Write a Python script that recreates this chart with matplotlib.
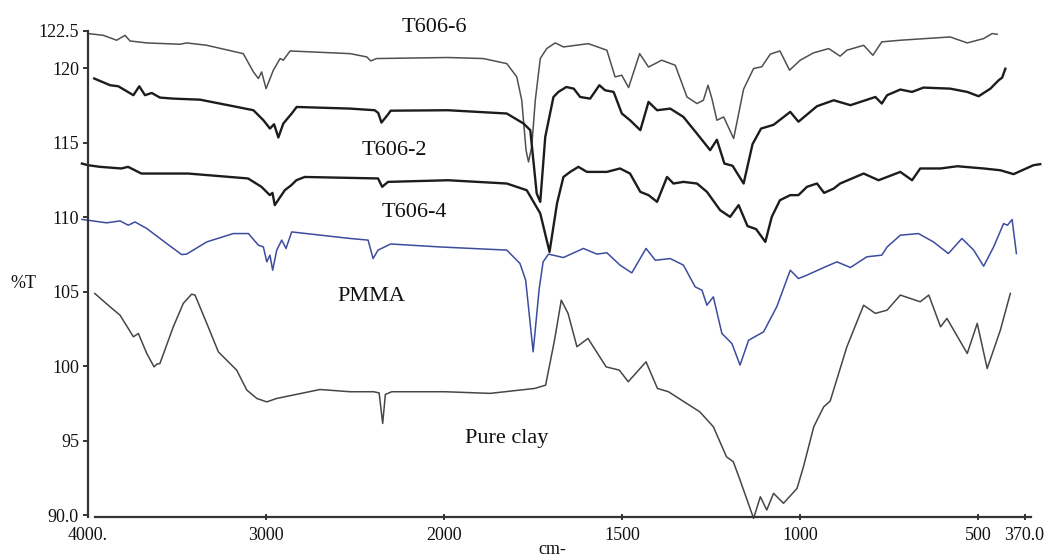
import numpy as np
import matplotlib
matplotlib.use("Agg")
import matplotlib.pyplot as plt
from matplotlib.ticker import FixedLocator, FixedFormatter, NullLocator

# ---------------- data (wavenumber cm-1, %T) ----------------
t6_w = [4002, 3914, 3839, 3792, 3764, 3670, 3483, 3446, 3333, 3128, 3071, 3043, 3025, 3000,
        2959, 2921, 2903, 2865, 2528, 2434, 2412, 2380, 1989, 1890, 1824, 1796, 1782, 1770,
        1763, 1754, 1744, 1730, 1712, 1688, 1665, 1595, 1543, 1520, 1501, 1482, 1451, 1426,
        1389, 1351, 1318, 1290, 1272, 1259, 1248, 1234, 1215, 1187, 1159, 1131, 1108, 1084,
        1057, 1030, 1000, 963, 920, 888, 869, 822, 796, 771, 719, 579, 531, 485, 461, 447]
t6_v = [122.33, 122.21, 121.88, 122.21, 121.83, 121.70, 121.61, 121.70, 121.54, 120.98, 119.75,
        119.31, 119.75, 118.63, 119.87, 120.65, 120.54, 121.16, 120.98, 120.76, 120.49, 120.65,
        120.72, 120.65, 120.31, 119.42, 117.85, 114.50, 113.71, 114.72, 117.85, 120.65, 121.32,
        121.70, 121.43, 121.65, 121.21, 119.42, 119.53, 118.70, 120.98, 120.08, 120.54, 120.20,
        118.07, 117.63, 117.85, 118.86, 117.96, 116.51, 116.73, 115.28, 118.60, 119.98, 120.10,
        120.95, 121.16, 119.87, 120.54, 121.03, 121.32, 120.81, 121.21, 121.54, 120.87, 121.77,
        121.88, 122.10, 121.70, 121.99, 122.33, 122.28]

t2_w = [3965, 3876, 3830, 3745, 3712, 3680, 3642, 3596, 3521, 3371, 3184, 3071, 3015, 2978,
        2955, 2931, 2903, 2856, 2828, 2528, 2390, 2370, 2352, 2315, 2300, 1989, 1824, 1777,
        1758, 1740, 1730, 1716, 1693, 1679, 1657, 1636, 1618, 1590, 1564, 1548, 1524, 1501,
        1478, 1449, 1426, 1402, 1365, 1328, 1290, 1253, 1234, 1213, 1190, 1159, 1134, 1110,
        1075, 1028, 1005, 953, 906, 859, 789, 771, 756, 719, 686, 654, 579, 531, 499, 466,
        443, 433, 424]
t2_v = [119.31, 118.86, 118.79, 118.19, 118.79, 118.19, 118.34, 118.03, 117.96, 117.89, 117.45,
        117.18, 116.51, 115.95, 116.24, 115.35, 116.29, 116.96, 117.40, 117.29, 117.18, 117.00,
        116.35, 116.90, 117.15, 117.18, 116.96, 116.29, 115.84, 111.59, 111.03, 115.39, 118.07,
        118.41, 118.74, 118.63, 118.07, 117.96, 118.86, 118.52, 118.41, 116.96, 116.51, 115.84,
        117.74, 117.18, 117.29, 116.73, 115.61, 114.50, 115.20, 113.60, 113.45, 112.26, 114.90,
        115.95, 116.20, 117.07, 116.41, 117.45, 117.85, 117.52, 118.07, 117.63, 118.19, 118.57,
        118.41, 118.70, 118.63, 118.41, 118.12, 118.63, 119.19, 119.37, 119.97]

t4_w = [4034, 4000, 3933, 3813, 3775, 3700, 3438, 3101, 3026, 2979, 2964, 2951, 2895, 2858,
        2830, 2783, 2371, 2348, 2315, 1989, 1824, 1768, 1730, 1704, 1683, 1665, 1646, 1623,
        1599, 1543, 1506, 1478, 1449, 1426, 1402, 1374, 1356, 1328, 1290, 1262, 1225, 1197,
        1173, 1148, 1124, 1098, 1080, 1057, 1028, 1005, 981, 953, 933, 906, 888, 822, 780,
        719, 686, 663, 606, 559, 485, 438, 401, 345, 326]
t4_v = [113.60, 113.49, 113.38, 113.27, 113.38, 112.93, 112.93, 112.60, 112.04, 111.48, 111.63,
        110.81, 111.81, 112.15, 112.48, 112.70, 112.60, 112.04, 112.37, 112.48, 112.26, 111.81,
        110.25, 107.67, 110.92, 112.70, 113.04, 113.38, 113.04, 113.04, 113.27, 112.93, 111.70,
        111.48, 111.03, 112.70, 112.26, 112.37, 112.26, 111.70, 110.47, 110.02, 110.81, 109.40,
        109.20, 108.34, 110.02, 111.14, 111.48, 111.48, 112.04, 112.26, 111.63, 111.92, 112.26,
        112.93, 112.48, 113.04, 112.48, 113.27, 113.27, 113.42, 113.27, 113.15, 112.89, 113.49,
        113.56]

pm_w = [4034, 3895, 3820, 3774, 3736, 3670, 3558, 3474, 3446, 3333, 3184, 3099, 3043, 3015,
        2996, 2978, 2963, 2940, 2912, 2888, 2856, 2528, 2427, 2399, 2371, 2300, 2022, 1824,
        1787, 1771, 1750, 1733, 1722, 1707, 1665, 1609, 1571, 1543, 1506, 1473, 1433, 1407,
        1365, 1328, 1295, 1276, 1262, 1244, 1220, 1192, 1169, 1145, 1103, 1066, 1028, 1005,
        981, 934, 897, 859, 813, 771, 756, 719, 668, 626, 584, 546, 513, 485, 457, 429, 418,
        405, 393]
pm_v = [109.85, 109.62, 109.75, 109.46, 109.68, 109.24, 108.23, 107.49, 107.52, 108.34, 108.90,
        108.90, 108.12, 108.00, 107.00, 107.45, 106.44, 107.79, 108.46, 107.90, 109.01, 108.57,
        108.46, 107.22, 107.79, 108.20, 108.00, 107.79, 106.89, 105.77, 100.96, 105.20, 107.00,
        107.52, 107.29, 107.90, 107.52, 107.61, 106.78, 106.26, 107.90, 107.11, 107.22, 106.78,
        105.32, 105.10, 104.09, 104.65, 102.19, 101.52, 100.07, 101.74, 102.30, 103.98, 106.44,
        105.88, 106.11, 106.62, 107.00, 106.62, 107.34, 107.45, 108.00, 108.79, 108.90, 108.34,
        107.56, 108.57, 107.79, 106.71, 108.00, 109.57, 109.46, 109.84, 107.56]

pc_w = [3962, 3876, 3820, 3745, 3717, 3670, 3629, 3614, 3596, 3521, 3465, 3418, 3399, 3333,
        3268, 3165, 3108, 3052, 2996, 2940, 2697, 2528, 2395, 2365, 2345, 2330, 2294, 1997,
        1871, 1746, 1715, 1690, 1671, 1652, 1627, 1596, 1545, 1508, 1483, 1433, 1401, 1370,
        1282, 1244, 1207, 1188, 1169, 1131, 1112, 1094, 1075, 1047, 1009, 991, 962, 934, 916,
        869, 822, 789, 756, 719, 663, 639, 606, 588, 531, 503, 475, 438, 410]
pc_v = [104.88, 103.98, 103.42, 101.97, 102.19, 100.85, 99.95, 100.13, 100.18, 102.64, 104.21,
        104.83, 104.77, 102.87, 100.96, 99.73, 98.39, 97.83, 97.60, 97.83, 98.43, 98.28, 98.28,
        98.20, 96.15, 98.10, 98.28, 98.28, 98.17, 98.50, 98.72, 101.74, 104.43, 103.54, 101.30,
        101.86, 99.95, 99.73, 98.95, 100.29, 98.50, 98.28, 96.93, 95.93, 93.91, 93.58, 92.35,
        89.78, 91.23, 90.34, 91.46, 90.79, 91.79, 93.24, 95.93, 97.27, 97.65, 101.30, 104.09,
        103.54, 103.76, 104.77, 104.32, 104.77, 102.64, 103.20, 100.85, 102.87, 99.84, 102.42,
        104.88]

series_names = ["T606-6", "T606-2", "T606-4", "PMMA", "Pure clay"]
x_ticks = [4000, 3000, 2000, 1500, 1000, 500, 370]
x_ticklabels = ["4000.", "3000", "2000", "1500", "1000", "500", "370.0"]
y_ticks = [90, 95, 100, 105, 110, 115, 120, 122.5]
y_ticklabels = ["90.0", "95", "100", "105", "110", "115", "120", "122.5"]

# ---------------- plot ----------------
SERIF = ["Liberation Serif", "DejaVu Serif"]
plt.rcParams["font.family"] = SERIF

W, H = 1045, 556
fig = plt.figure(figsize=(W / 100, H / 100), dpi=100)
ax = fig.add_axes([88 / W, 1 - 517 / H, (1031 - 88) / W, 486 / H])


def fwd(w):
    w = np.asarray(w, dtype=float)
    return np.where(w <= 2000, 2 * w, w + 2000)


def inv(p):
    p = np.asarray(p, dtype=float)
    return np.where(p <= 4000, p / 2, p - 2000)


ax.set_xscale("function", functions=(fwd, inv))
ax.set_xlim(4000, 352)
ax.set_ylim(89.87, 122.5)

styles = [
    (t6_w, t6_v, "#505050", 1.1),
    (t2_w, t2_v, "#1c1c1c", 1.7),
    (t4_w, t4_v, "#1c1c1c", 1.7),
    (pm_w, pm_v, "#3d4c9e", 1.1),
    (pc_w, pc_v, "#464646", 1.1),
]
for w, v, c, lw in styles:
    ax.plot(w, v, color=c, lw=lw, clip_on=False, solid_joinstyle="round")

labels_pos = [(2056, 122.75), (2281, 114.50), (2168, 110.29), (2410, 104.70), (1823, 95.17)]
for name, (lx, ly) in zip(series_names, labels_pos):
    ax.text(lx, ly, name, ha="center", va="center", fontsize=16, color="#111111",
            clip_on=False)

for s in ["top", "right"]:
    ax.spines[s].set_visible(False)
for s in ["left", "bottom"]:
    ax.spines[s].set_linewidth(1.6)
    ax.spines[s].set_color("#333333")
ax.spines["bottom"].set_bounds(3960, 352)

ax.xaxis.set_major_locator(FixedLocator(x_ticks))
ax.xaxis.set_major_formatter(FixedFormatter(x_ticklabels))
ax.xaxis.set_minor_locator(NullLocator())
ax.yaxis.set_major_locator(FixedLocator(y_ticks))
ax.yaxis.set_major_formatter(FixedFormatter(y_ticklabels))
ax.yaxis.set_minor_locator(NullLocator())

ax.tick_params(axis="x", direction="inout", length=5, width=1.4, colors="#333333",
               labelsize=13, labelcolor="#111111", pad=5)
ax.tick_params(axis="y", direction="out", length=3.5, width=1.4, colors="#333333",
               labelsize=13, labelcolor="#111111", pad=3)
ax.xaxis.get_major_ticks()[0].tick1line.set_visible(False)

fig.text(23 / W, 1 - 283 / H, "%T", ha="center", va="center", fontsize=13, color="#111111")
fig.text(552 / W, 1 - 541 / H, "cm-", ha="center", va="top", fontsize=13, color="#111111")

fig.savefig("out.png", dpi=100, facecolor="white")
